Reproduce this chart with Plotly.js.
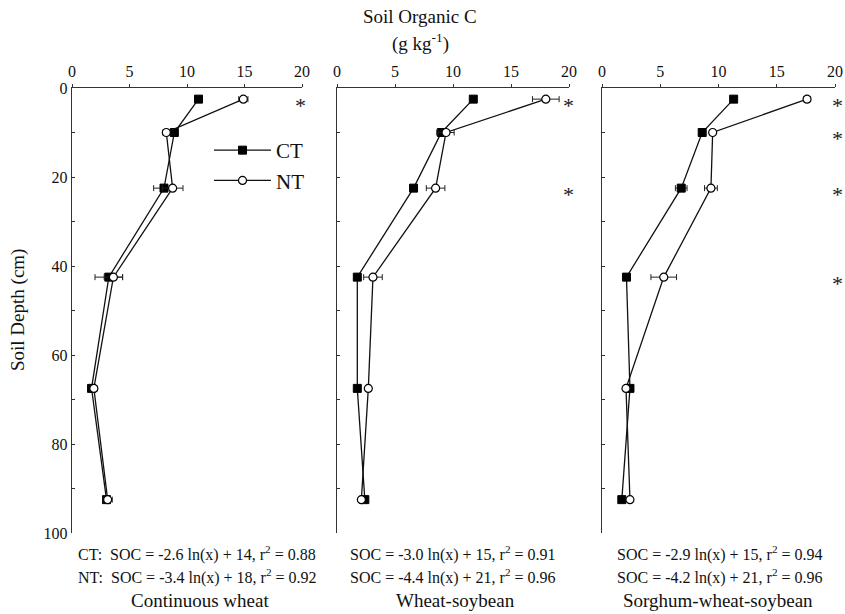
<!DOCTYPE html>
<html>
<head>
<meta charset="utf-8">
<script src="https://cdn.plot.ly/plotly-3.0.1.min.js"></script>
<style>html,body{margin:0;padding:0;background:#fff;}#chart{width:845px;height:614px;}</style>
</head>
<body>
<div id="chart"></div>
<script>
// Depths (cm)
var depth = [2.5, 10, 22.5, 42.5, 67.5, 92.5];

// Continuous wheat
var cwCT = [11.0, 8.9, 8.0, 3.2, 1.7, 3.0];
var cwCTerr = [0.2, 0.3, 0.9, 1.2, 0.2, 0.3];
var cwNT = [14.9, 8.2, 8.75, 3.6, 1.9, 3.1];
var cwNTerr = [0.4, 0.3, 0.9, 0.8, 0.3, 0.4];

// Wheat-soybean
var wsCT = [11.75, 9.0, 6.6, 1.75, 1.75, 2.4];
var wsCTerr = [0.2, 0.4, 0.2, 0.2, 0.2, 0.2];
var wsNT = [18.0, 9.4, 8.5, 3.1, 2.7, 2.1];
var wsNTerr = [1.15, 0.7, 0.8, 0.8, 0.2, 0.2];

// Sorghum-wheat-soybean
var swsCT = [11.3, 8.6, 6.8, 2.1, 2.4, 1.7];
var swsCTerr = [0.2, 0.2, 0.5, 0.2, 0.2, 0.2];
var swsNT = [17.6, 9.5, 9.35, 5.3, 2.06, 2.4];
var swsNTerr = [0.3, 0.2, 0.55, 1.1, 0.2, 0.2];

// Significance asterisks (depths)
var sigCW = [2.5];
var sigWS = [2.5, 22.5];
var sigSWS = [2.5, 10, 22.5, 42.5];

var panelTitles = ["Continuous wheat", "Wheat-soybean", "Sorghum-wheat-soybean"];
var eqCT = ["CT:  SOC = -2.6 ln(x) + 14, r<sup>2</sup> = 0.88", "SOC = -3.0 ln(x) + 15, r<sup>2</sup> = 0.91", "SOC = -2.9 ln(x) + 15, r<sup>2</sup> = 0.94"];
var eqNT = ["NT:  SOC = -3.4 ln(x) + 18, r<sup>2</sup> = 0.92", "SOC = -4.4 ln(x) + 21, r<sup>2</sup> = 0.96", "SOC = -4.2 ln(x) + 21, r<sup>2</sup> = 0.96"];

var FONT = "Liberation Serif, Times New Roman, serif";
var panels = [
  {ct: cwCT, cte: cwCTerr, nt: cwNT, nte: cwNTerr, sig: sigCW, xa: 'x', ya: 'y', sxs: -2},
  {ct: wsCT, cte: wsCTerr, nt: wsNT, nte: wsNTerr, sig: sigWS, xa: 'x2', ya: 'y2', sxs: -1},
  {ct: swsCT, cte: swsCTerr, nt: swsNT, nte: swsNTerr, sig: sigSWS, xa: 'x3', ya: 'y3', sxs: 2}
];

var traces = [];
panels.forEach(function(p, i) {
  traces.push({
    x: p.ct, y: depth, xaxis: p.xa, yaxis: p.ya, type: 'scatter', mode: 'lines+markers',
    name: 'CT', showlegend: i === 0, legendgroup: 'ct', cliponaxis: false,
    line: {color: '#111', width: 1.3},
    marker: {symbol: 'square', size: 8, color: '#000', line: {color: '#000', width: 1}},
    error_x: {type: 'data', array: p.cte, visible: true, color: '#222', thickness: 1, width: 3}
  });
  traces.push({
    x: p.nt, y: depth, xaxis: p.xa, yaxis: p.ya, type: 'scatter', mode: 'lines+markers',
    name: 'NT', showlegend: i === 0, legendgroup: 'nt', cliponaxis: false,
    line: {color: '#111', width: 1.3},
    marker: {symbol: 'circle', size: 8, color: '#fff', line: {color: '#000', width: 1.2}},
    error_x: {type: 'data', array: p.nte, visible: true, color: '#222', thickness: 1, width: 3}
  });
});

var W = 845;
var domains = [[72 / W, 302 / W], [337 / W, 569 / W], [602 / W, 835 / W]];

function xaxis(i) {
  return {
    domain: domains[i], range: [0, 20], side: 'top', anchor: i === 0 ? 'y' : 'y' + (i + 1),
    tickvals: [0, 5, 10, 15, 20], ticks: 'outside', ticklen: 3, tickcolor: '#333',
    showline: true, linecolor: '#333', linewidth: 1.2, showgrid: false, zeroline: false,
    tickfont: {family: FONT, size: 16, color: '#111'}, fixedrange: true
  };
}
function yaxis(i) {
  return {
    domain: [0, 1], range: [100, 0], anchor: i === 0 ? 'x' : 'x' + (i + 1),
    tickvals: [0, 10, 20, 30, 40, 50, 60, 70, 80, 90, 100],
    ticktext: ['0', '', '20', '', '40', '', '60', '', '80', '', '100'],
    showticklabels: i === 0,
    ticks: 'inside', ticklen: 3, tickcolor: '#333',
    showline: true, linecolor: '#333', linewidth: 1.2, showgrid: false, zeroline: false,
    tickfont: {family: FONT, size: 16, color: '#111'}, fixedrange: true
  };
}

var annotations = [];
function pyPaper(px) { return (533 - px) / 445; }
function ann(text, px, py, size, opts) {
  var a = {text: text, xref: 'paper', yref: 'paper', x: px / W, y: pyPaper(py), xanchor: 'center', yanchor: 'middle',
           showarrow: false, font: {family: FONT, size: size, color: '#111'}};
  for (var k in (opts || {})) a[k] = opts[k];
  return a;
}
annotations.push(ann('Soil Organic C', 420, 17, 19));
annotations.push(ann('(g kg<sup>-1</sup>)', 420, 42, 19));
annotations.push(ann('Soil Depth (cm)', 18, 310, 19, {textangle: -90}));

var eqLeft = [76, 348, 615];
var titleCenter = [200, 455, 718];
for (var i = 0; i < 3; i++) {
  annotations.push(ann(eqCT[i], eqLeft[i], 553, 16, {xanchor: 'left'}));
  annotations.push(ann(eqNT[i], eqLeft[i], 576, 16, {xanchor: 'left'}));
  annotations.push(ann(panelTitles[i], titleCenter[i], 600, 19));
  panels[i].sig.forEach(function(d) {
    annotations.push({text: '*', xref: panels[i].xa, yref: panels[i].ya, x: 20, y: d, xanchor: 'center', yanchor: 'middle',
                      xshift: panels[i].sxs, yshift: -6, showarrow: false, font: {family: FONT, size: 22, color: '#222'}});
  });
}

var layout = {
  width: 845, height: 614,
  margin: {l: 0, r: 0, t: 88, b: 81},
  paper_bgcolor: '#fff', plot_bgcolor: 'rgba(0,0,0,0)',
  font: {family: FONT, color: '#111'},
  showlegend: true,
  legend: {x: 209 / W, y: pyPaper(130), xanchor: 'left', yanchor: 'top', bgcolor: 'rgba(0,0,0,0)',
           font: {family: FONT, size: 21, color: '#111'}, itemwidth: 57, tracegroupgap: 0, traceorder: 'grouped'},
  xaxis: xaxis(0), xaxis2: xaxis(1), xaxis3: xaxis(2),
  yaxis: yaxis(0), yaxis2: yaxis(1), yaxis3: yaxis(2),
  annotations: annotations
};

Plotly.newPlot('chart', traces, layout, {displayModeBar: false, staticPlot: true});
</script>
</body>
</html>
